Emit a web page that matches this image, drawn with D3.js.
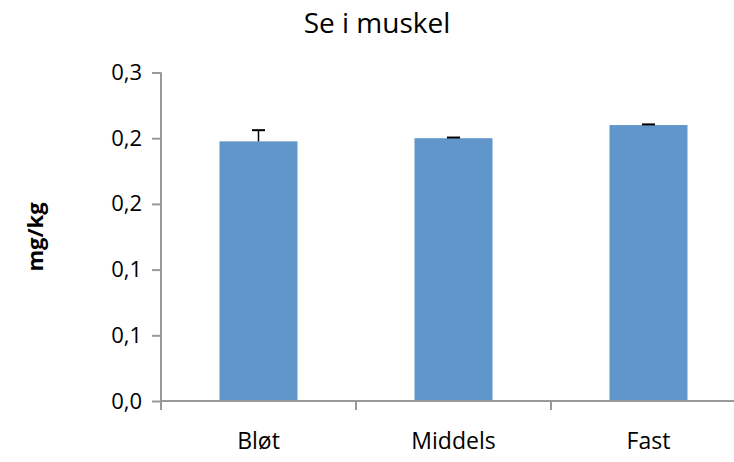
<!DOCTYPE html>
<html>
<head>
<meta charset="utf-8">
<script src="https://cdn.jsdelivr.net/npm/d3@7"></script>
<style>
  body { margin: 0; background: #fff; }
  text { font-family: "Open Sans", sans-serif; fill: #000; }
</style>
</head>
<body>
<div id="chart"></div>
<script>
var categories = ["Bløt", "Middels", "Fast"];
var values = [0.1976, 0.2, 0.21];
var errors = [0.0085, 0.0005, 0.0005];
var yTicks = [0, 0.05, 0.1, 0.15, 0.2, 0.25];
var yTickLabels = ["0,0", "0,1", "0,1", "0,2", "0,2", "0,3"];

var width = 734;
var height = 462;
var plotLeft = 161, plotRight = 746, plotTop = 72.5, plotBottom = 401;

var svg = d3.select("#chart")
  .append("svg")
  .attr("width", width)
  .attr("height", height);

var x = d3.scaleBand()
  .domain(categories)
  .range([plotLeft, plotRight])
  .paddingInner(0.6)
  .paddingOuter(0.3);

var y = d3.scaleLinear()
  .domain([0, 0.25])
  .range([plotBottom, plotTop]);

// bars
svg.selectAll("rect.bar")
  .data(values)
  .enter()
  .append("rect")
  .attr("class", "bar")
  .attr("x", (d, i) => x(categories[i]))
  .attr("y", d => y(d))
  .attr("width", x.bandwidth())
  .attr("height", d => plotBottom - y(d))
  .attr("fill", "#6096c9");

// error bars (upper only)
var eb = svg.selectAll("g.err")
  .data(values)
  .enter()
  .append("g")
  .attr("class", "err");

eb.append("line")
  .attr("x1", (d, i) => x(categories[i]) + x.bandwidth() / 2)
  .attr("x2", (d, i) => x(categories[i]) + x.bandwidth() / 2)
  .attr("y1", d => y(d))
  .attr("y2", (d, i) => y(d + errors[i]))
  .attr("stroke", "#000")
  .attr("stroke-width", 1.5);

eb.append("line")
  .attr("x1", (d, i) => x(categories[i]) + x.bandwidth() / 2 - 6.5)
  .attr("x2", (d, i) => x(categories[i]) + x.bandwidth() / 2 + 6.5)
  .attr("y1", (d, i) => y(d + errors[i]))
  .attr("y2", (d, i) => y(d + errors[i]))
  .attr("stroke", "#000")
  .attr("stroke-width", 2);

// y axis
var yAxis = d3.axisLeft(y)
  .tickValues(yTicks)
  .tickFormat((d, i) => yTickLabels[i])
  .tickSize(9)
  .tickPadding(10);

var gy = svg.append("g")
  .attr("transform", "translate(" + plotLeft + ",0)")
  .call(yAxis);
gy.select(".domain").attr("d", "M0," + plotTop + "V" + plotBottom);
gy.selectAll("path, line").attr("stroke", "#999").attr("stroke-width", 2);
gy.selectAll("text").style("font-size", "22px");

// x axis
var xAxis = d3.axisBottom(x).tickSize(0).tickPadding(32);
var gx = svg.append("g")
  .attr("transform", "translate(0," + plotBottom + ")")
  .call(xAxis);
gx.select(".domain").attr("stroke", "#999").attr("stroke-width", 2)
  .attr("d", "M" + plotLeft + ",0H" + plotRight);
gx.selectAll("text").style("font-size", "23px");

// tick marks between categories
gx.selectAll("line.sep")
  .data(d3.range(categories.length + 1))
  .enter()
  .append("line")
  .attr("class", "sep")
  .attr("x1", i => plotLeft + i * x.step())
  .attr("x2", i => plotLeft + i * x.step())
  .attr("y1", 0)
  .attr("y2", 9)
  .attr("stroke", "#999")
  .attr("stroke-width", 2);

// title
svg.append("text")
  .attr("x", 377)
  .attr("y", 33)
  .attr("text-anchor", "middle")
  .style("font-size", "28px")
  .text("Se i muskel");

// y title
svg.append("text")
  .attr("transform", "translate(43,237) rotate(-90)")
  .attr("text-anchor", "middle")
  .style("font-size", "22px")
  .style("font-weight", "bold")
  .text("mg/kg");
</script>
</body>
</html>
